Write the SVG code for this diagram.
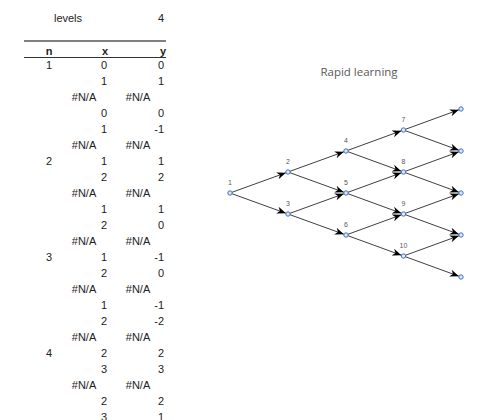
<svg xmlns="http://www.w3.org/2000/svg" width="496" height="420" viewBox="0 0 496 420">
<style>
.t{font-family:"Liberation Sans",Arial,sans-serif;font-size:11px;fill:#222}
.b{font-weight:bold}
.m{text-anchor:middle}
.r{text-anchor:end}
.lbl{font-family:"Liberation Sans",Arial,sans-serif;font-size:7px;fill:#595959;text-anchor:middle}
.e{stroke:#404040;stroke-width:1;fill:none;marker-end:url(#ah)}
.n{fill:#dde6f5;stroke:#4472C4;stroke-width:1}
</style>
<defs>
<marker id="ah" viewBox="0 0 10 8" refX="12.5" refY="4" markerWidth="9" markerHeight="7.2" markerUnits="userSpaceOnUse" orient="auto">
<path d="M0,0 L10,4 L0,8 L3,4 z" fill="#000"/>
</marker>
</defs>
<rect width="496" height="420" fill="#fff"/>
<g id="table">
<text class="t m" x="68" y="22">levels</text>
<text class="t r" x="164" y="22">4</text>
<line x1="24" y1="41" x2="166" y2="41" stroke="#808080" stroke-width="2"/>
<text class="t b m" x="49" y="55">n</text>
<text class="t b m" x="105" y="55">x</text>
<text class="t b r" x="166" y="55">y</text>
<line x1="24" y1="57.5" x2="166" y2="57.5" stroke="#333" stroke-width="1"/>
<g id="rows">
<text class="t m" x="49" y="69">1</text><text class="t r" x="107" y="69">0</text><text class="t r" x="164" y="69">0</text>
<text class="t r" x="107" y="85">1</text><text class="t r" x="164" y="85">1</text>
<text class="t m" x="84" y="101">#N/A</text><text class="t m" x="138" y="101">#N/A</text>
<text class="t r" x="107" y="117">0</text><text class="t r" x="164" y="117">0</text>
<text class="t r" x="107" y="133">1</text><text class="t r" x="164" y="133">-1</text>
<text class="t m" x="84" y="149">#N/A</text><text class="t m" x="138" y="149">#N/A</text>
<text class="t m" x="49" y="165">2</text><text class="t r" x="107" y="165">1</text><text class="t r" x="164" y="165">1</text>
<text class="t r" x="107" y="181">2</text><text class="t r" x="164" y="181">2</text>
<text class="t m" x="84" y="197">#N/A</text><text class="t m" x="138" y="197">#N/A</text>
<text class="t r" x="107" y="213">1</text><text class="t r" x="164" y="213">1</text>
<text class="t r" x="107" y="229">2</text><text class="t r" x="164" y="229">0</text>
<text class="t m" x="84" y="245">#N/A</text><text class="t m" x="138" y="245">#N/A</text>
<text class="t m" x="49" y="261">3</text><text class="t r" x="107" y="261">1</text><text class="t r" x="164" y="261">-1</text>
<text class="t r" x="107" y="277">2</text><text class="t r" x="164" y="277">0</text>
<text class="t m" x="84" y="293">#N/A</text><text class="t m" x="138" y="293">#N/A</text>
<text class="t r" x="107" y="309">1</text><text class="t r" x="164" y="309">-1</text>
<text class="t r" x="107" y="325">2</text><text class="t r" x="164" y="325">-2</text>
<text class="t m" x="84" y="341">#N/A</text><text class="t m" x="138" y="341">#N/A</text>
<text class="t m" x="49" y="357">4</text><text class="t r" x="107" y="357">2</text><text class="t r" x="164" y="357">2</text>
<text class="t r" x="107" y="373">3</text><text class="t r" x="164" y="373">3</text>
<text class="t m" x="84" y="389">#N/A</text><text class="t m" x="138" y="389">#N/A</text>
<text class="t r" x="107" y="405">2</text><text class="t r" x="164" y="405">2</text>
<text class="t r" x="107" y="421">3</text><text class="t r" x="164" y="421">1</text>
</g>
</g>
<text x="359" y="76" font-family="'Open Sans','Liberation Sans',sans-serif" font-size="11.5" fill="#595959" text-anchor="middle">Rapid learning</text>
<g id="connectors">
<line class="e" x1="230" y1="193" x2="288" y2="172"/>
<line class="e" x1="230" y1="193" x2="288" y2="214"/>
<line class="e" x1="288" y1="172" x2="346" y2="151"/>
<line class="e" x1="288" y1="172" x2="346" y2="193"/>
<line class="e" x1="288" y1="214" x2="346" y2="193"/>
<line class="e" x1="288" y1="214" x2="346" y2="235"/>
<line class="e" x1="346" y1="151" x2="403.5" y2="130"/>
<line class="e" x1="346" y1="151" x2="403.5" y2="172"/>
<line class="e" x1="346" y1="193" x2="403.5" y2="172"/>
<line class="e" x1="346" y1="193" x2="403.5" y2="214"/>
<line class="e" x1="346" y1="235" x2="403.5" y2="214"/>
<line class="e" x1="346" y1="235" x2="403.5" y2="256"/>
<line class="e" x1="403.5" y1="130" x2="461" y2="109"/>
<line class="e" x1="403.5" y1="130" x2="461" y2="151"/>
<line class="e" x1="403.5" y1="172" x2="461" y2="151"/>
<line class="e" x1="403.5" y1="172" x2="461" y2="193"/>
<line class="e" x1="403.5" y1="214" x2="461" y2="193"/>
<line class="e" x1="403.5" y1="214" x2="461" y2="235"/>
<line class="e" x1="403.5" y1="256" x2="461" y2="235"/>
<line class="e" x1="403.5" y1="256" x2="461" y2="277"/>
</g>
<g id="n1"><circle class="n" cx="230" cy="193" r="2.2"/><text class="lbl" x="230" y="185">1</text></g>
<g id="n2"><circle class="n" cx="288" cy="172" r="2.2"/><text class="lbl" x="288" y="164">2</text></g>
<g id="n3"><circle class="n" cx="288" cy="214" r="2.2"/><text class="lbl" x="288" y="206">3</text></g>
<g id="n4"><circle class="n" cx="346" cy="151" r="2.2"/><text class="lbl" x="346" y="143">4</text></g>
<g id="n5"><circle class="n" cx="346" cy="193" r="2.2"/><text class="lbl" x="346" y="185">5</text></g>
<g id="n6"><circle class="n" cx="346" cy="235" r="2.2"/><text class="lbl" x="346" y="227">6</text></g>
<g id="n7"><circle class="n" cx="403.5" cy="130" r="2.2"/><text class="lbl" x="403.5" y="122">7</text></g>
<g id="n8"><circle class="n" cx="403.5" cy="172" r="2.2"/><text class="lbl" x="403.5" y="164">8</text></g>
<g id="n9"><circle class="n" cx="403.5" cy="214" r="2.2"/><text class="lbl" x="403.5" y="206">9</text></g>
<g id="n10"><circle class="n" cx="403.5" cy="256" r="2.2"/><text class="lbl" x="403.5" y="248">10</text></g>
<g id="n11"><circle class="n" cx="461" cy="109" r="2.2"/></g>
<g id="n12"><circle class="n" cx="461" cy="151" r="2.2"/></g>
<g id="n13"><circle class="n" cx="461" cy="193" r="2.2"/></g>
<g id="n14"><circle class="n" cx="461" cy="235" r="2.2"/></g>
<g id="n15"><circle class="n" cx="461" cy="277" r="2.2"/></g>
</svg>
